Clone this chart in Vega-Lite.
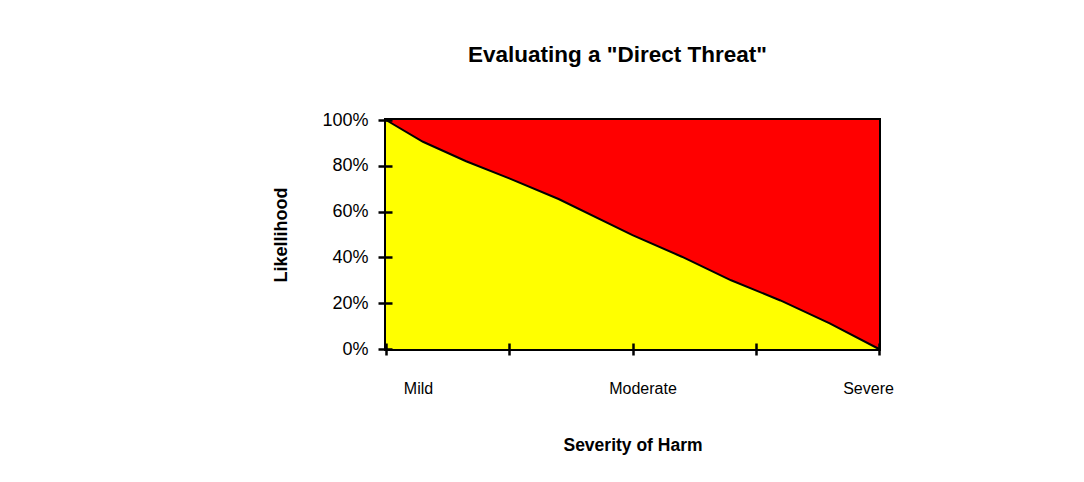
{
  "$schema": "https://vega.github.io/schema/vega-lite/v6.json",
  "width": 493,
  "height": 229,
  "autosize": "none",
  "padding": {"left": 386, "top": 120, "right": 205, "bottom": 133},
  "background": "white",
  "config": {
    "font": "Liberation Sans",
    "view": {"stroke": "black", "strokeWidth": 4}
  },
  "title": {
    "text": "Evaluating a \"Direct Threat\"",
    "font": "Liberation Sans",
    "fontSize": 22.5,
    "fontWeight": "bold",
    "color": "black",
    "anchor": "middle",
    "dx": -15,
    "offset": 45
  },
  "data": {
    "values": [
      {"sev": 0, "likelihood": 1.0},
      {"sev": 0.3, "likelihood": 0.905},
      {"sev": 0.65, "likelihood": 0.82},
      {"sev": 1.0, "likelihood": 0.745},
      {"sev": 1.4, "likelihood": 0.655},
      {"sev": 2.0, "likelihood": 0.497},
      {"sev": 2.4, "likelihood": 0.403},
      {"sev": 2.8, "likelihood": 0.3},
      {"sev": 3.2, "likelihood": 0.212},
      {"sev": 3.6, "likelihood": 0.112},
      {"sev": 4.0, "likelihood": 0.0}
    ]
  },
  "layer": [
    {
      "mark": {"type": "area", "color": "#FF0000", "opacity": 1},
      "encoding": {
        "x": {
          "field": "sev",
          "type": "quantitative",
          "scale": {"domain": [0, 4], "nice": false, "zero": false},
          "axis": {
            "orient": "bottom",
            "values": [0, 1, 2, 3, 4],
            "labelExpr": "datum.value == 0 ? 'Mild' : datum.value == 2 ? 'Moderate' : datum.value == 4 ? 'Severe' : ''",
            "grid": false,
            "zindex": 1,
            "domain": false,
            "offset": -6,
            "tickColor": "black",
            "tickWidth": 2.5,
            "tickSize": 12,
            "labelFont": "Liberation Sans",
            "labelFontSize": 16,
            "labelColor": "black",
            "labelPadding": 25,
            "labelFlush": false,
            "labelOverlap": false,
            "labelOffset": {"expr": "datum.value == 0 ? 32 : datum.value == 2 ? 10 : -11"},
            "title": "Severity of Harm",
            "titleFont": "Liberation Sans",
            "titleFontSize": 17.5,
            "titleFontWeight": "bold",
            "titleColor": "black",
            "titlePadding": 40
          }
        },
        "y": {
          "datum": 1,
          "type": "quantitative",
          "scale": {"domain": [0, 1], "nice": false},
          "axis": {
            "orient": "left",
            "values": [0, 0.2, 0.4, 0.6, 0.8, 1],
            "format": ".0%",
            "grid": false,
            "zindex": 1,
            "domain": false,
            "offset": -6,
            "tickColor": "black",
            "tickWidth": 2.5,
            "tickSize": 14,
            "labelFont": "Liberation Sans",
            "labelFontSize": 18,
            "labelColor": "black",
            "labelPadding": 10,
            "labelFlush": false,
            "labelOverlap": false,
            "title": "Likellihood",
            "titleFont": "Liberation Sans",
            "titleFontSize": 18,
            "titleFontWeight": "bold",
            "titleColor": "black",
            "titlePadding": 31
          }
        }
      }
    },
    {
      "mark": {"type": "area", "color": "#FFFF00", "opacity": 1},
      "encoding": {
        "x": {"field": "sev", "type": "quantitative"},
        "y": {"field": "likelihood", "type": "quantitative"}
      }
    },
    {
      "mark": {"type": "line", "color": "black", "strokeWidth": 2},
      "encoding": {
        "x": {"field": "sev", "type": "quantitative"},
        "y": {"field": "likelihood", "type": "quantitative"}
      }
    }
  ]
}
